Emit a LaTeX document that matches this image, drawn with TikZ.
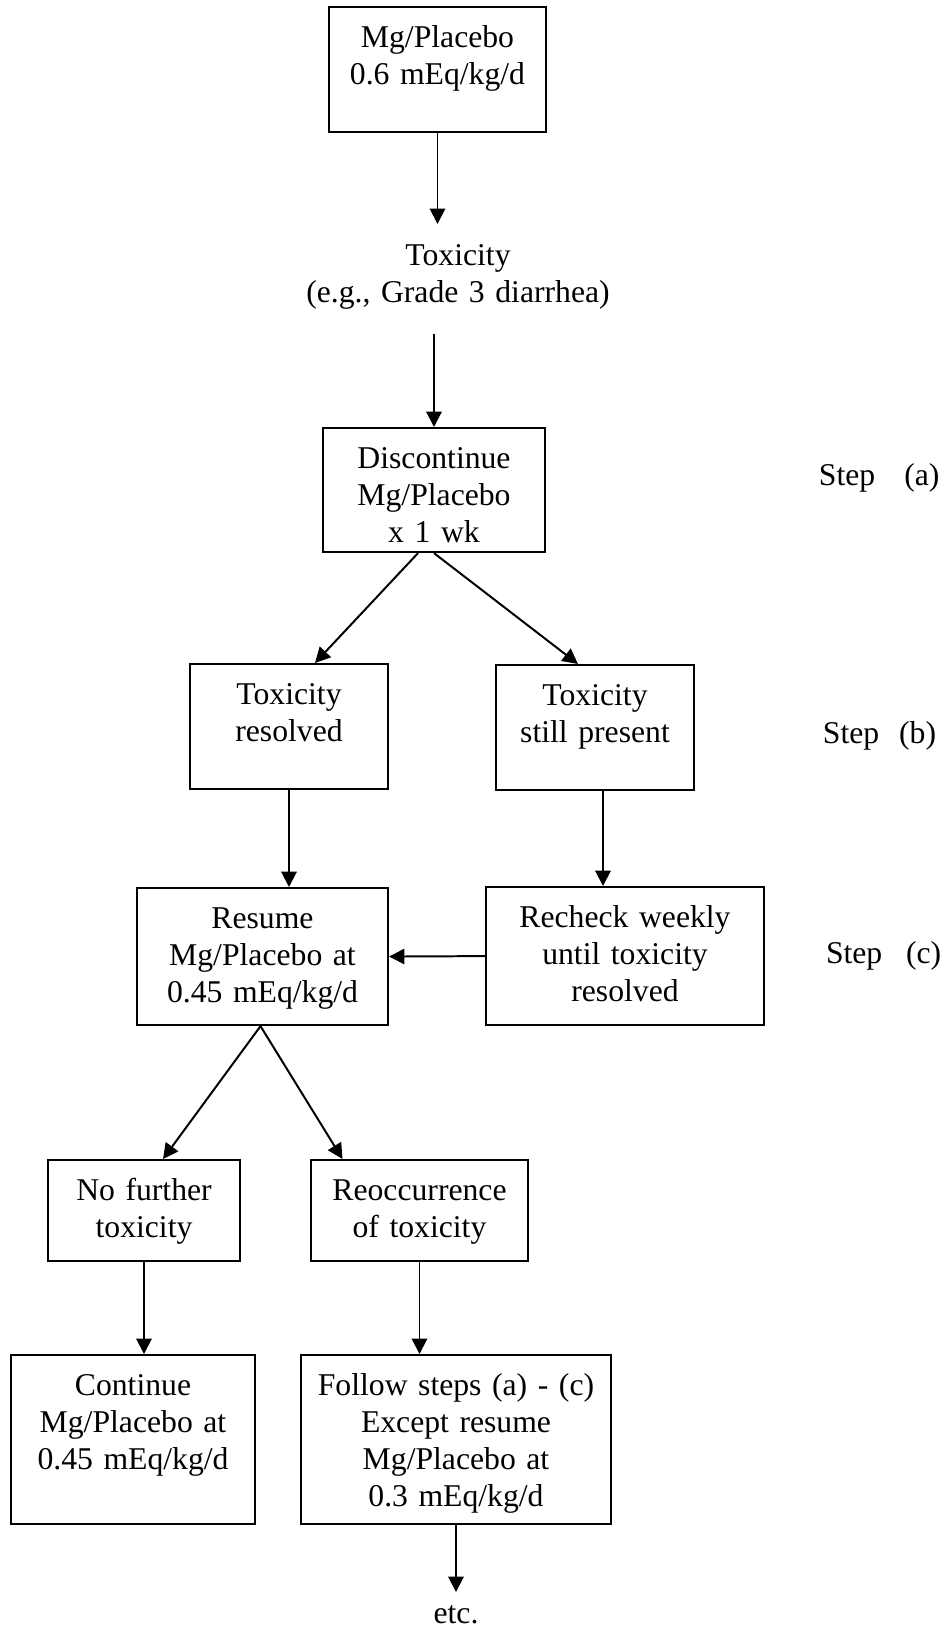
\documentclass[tikz,border=0pt]{standalone}
\usepackage{fontspec}
\setmainfont{Liberation Serif}
\usepackage{tikz}
\usetikzlibrary{arrows.meta}
\usetikzlibrary{calc}

\begin{document}
\begin{tikzpicture}[x=0.3788pt,y=-0.3788pt,->,>={Triangle[length=5.8pt,width=5.8pt]},line width=0.75pt,
  main node/.style={draw,line width=0.8pt,inner sep=0pt,anchor=north,align=center,text height=15.5pt,font=\fontsize{12pt}{14pt}\selectfont},
  text node/.style={inner sep=0pt,align=center,font=\fontsize{12pt}{14pt}\selectfont}]
  \useasboundingbox (0,0) rectangle (946,1629);

  \node[main node,text width=82.2pt,text depth=31.85pt] (mg) at (437.5,6) {Mg/Placebo\\0.6 mEq/kg/d};
  \node[text node,anchor=north,text width=140pt,text height=15.5pt,text depth=25.4pt] (tox) at (458,224) {Toxicity\\(e.g., Grade 3 diarrhea)};
  \node[main node,text width=84.1pt,text depth=31.47pt] (disc) at (434,427) {Discontinue\\Mg/Placebo\\x 1 wk};
  \node[main node,text width=75pt,text depth=31.85pt] (res) at (289,663) {Toxicity\\resolved};
  \node[main node,text width=75pt,text depth=31.85pt] (pres) at (595,664) {Toxicity\\still present};
  \node[main node,text width=95.1pt,text depth=36.4pt] (resume) at (262.5,887) {Resume\\Mg/Placebo at\\0.45 mEq/kg/d};
  \node[main node,text width=105.3pt,text depth=36.8pt] (recheck) at (625,886) {Recheck weekly\\until toxicity\\resolved};
  \node[main node,text width=72.7pt,text depth=22.8pt] (nofur) at (144,1159) {No further\\toxicity};
  \node[main node,text width=82.2pt,text depth=22.8pt] (reocc) at (419.5,1159) {Reoccurrence\\of toxicity};
  \node[main node,text width=92.4pt,text depth=48.5pt] (cont) at (133,1354) {Continue\\Mg/Placebo at\\0.45 mEq/kg/d};
  \node[main node,text width=117.4pt,text depth=48.5pt] (follow) at (456,1354) {Follow steps (a) - (c)\\Except resume\\Mg/Placebo at\\0.3 mEq/kg/d};
  \node[text node,anchor=north,text height=11.7pt,text depth=0pt] (etc) at (456,1592) {etc.};

  \node[text node,anchor=base west] (stepa) at (818,485) {Step\hspace{11pt}(a)};
  \node[text node,anchor=base west] (stepb) at (822,743) {Step\hspace{7.5pt}(b)};
  \node[text node,anchor=base west] (stepc) at (825,963) {Step\hspace{9pt}(c)};

  \coordinate (pr) at ($(pres.south)+(8,0)$);
  \coordinate (rs) at ($(resume.south)+(-2,0)$);

  \path (mg.south) edge (mg.south |- tox.north)
        (disc.north |- tox.south) edge (disc.north)
        ($(disc.south)+(-16,0)$) edge ($(res.north)+(26,0)$)
        ($(disc.south)+(0,0)$) edge ($(pres.north)+(-17,0)$)
        (res.south) edge (res.south |- resume.north)
        (pr) edge (pr |- recheck.north)
        (recheck.west) edge (resume.east)
        (rs) edge ($(nofur.north)+(19,0)$)
        (rs) edge ($(reocc.north)+(-77,0)$)
        (nofur.south) edge (nofur.south |- cont.north)
        (reocc.south) edge (reocc.south |- follow.north)
        (follow.south) edge (etc.north);
\end{tikzpicture}
\end{document}
